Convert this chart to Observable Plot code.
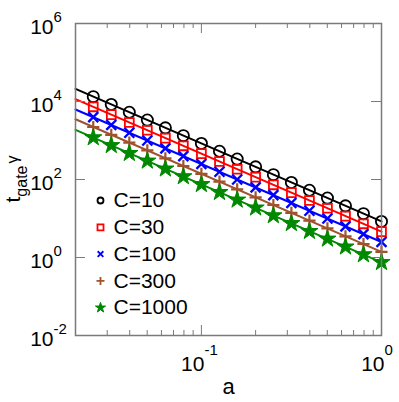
<!DOCTYPE html>
<html><head><meta charset="utf-8">
<script src="https://cdn.jsdelivr.net/npm/d3@7"></script>
<script src="https://cdn.jsdelivr.net/npm/@observablehq/plot@0.6"></script>
<style>body{margin:0;background:#fff}</style>
</head><body><div id="chart"></div>
<script>
// ---- data ----
const aValues = [0.0251, 0.0316, 0.0398, 0.0501, 0.0631, 0.0794, 0.1, 0.126, 0.158, 0.2, 0.251, 0.316, 0.398, 0.501, 0.631, 0.794, 1];
const tC10   = [13300, 8400, 5300, 3340, 2110, 1330, 840, 530, 334, 211, 133, 84, 53, 33.4, 21.1, 13.3, 8.4];
const tC30   = [7300, 4600, 2900, 1830, 1150, 730, 460, 290, 183, 115, 73, 46, 29, 18.3, 11.5, 7.3, 4.6];
const tC100  = [3960, 2500, 1580, 1000, 630, 396, 250, 158, 100, 63, 39.6, 25, 15.8, 10, 6.3, 3.96, 2.5];
const tC300  = [2220, 1400, 880, 560, 350, 222, 140, 88, 56, 35, 22.2, 14, 8.8, 5.6, 3.5, 2.22, 1.4];
const tC1000 = [1190, 750, 470, 300, 188, 119, 75, 47, 30, 18.8, 11.9, 7.5, 4.7, 3.0, 1.88, 1.19, 0.75];
// fitted lines (end points)
const lineA = [0.02, 1];
const lineC10 = [21000, 8.4];
const lineC30 = [11500, 4.6];
const lineC100 = [6250, 2.5];
const lineC300 = [3500, 1.4];
const lineC1000 = [1875, 0.75];

const seriesNames = ["C=10", "C=30", "C=100", "C=300", "C=1000"];
const seriesPoints = [tC10, tC30, tC100, tC300, tC1000];
const seriesLines = [lineC10, lineC30, lineC100, lineC300, lineC1000];

const xMajorTicks = [0.1, 1];
const xTickExp = ["-1", "0"];
const xMinorTicks = [0.02, 0.03, 0.04, 0.05, 0.06, 0.07, 0.08, 0.09, 0.2, 0.3, 0.4, 0.5, 0.6, 0.7, 0.8, 0.9];
const yMajorTicks = [1e-2, 1, 1e2, 1e4, 1e6];
const yTickExp = ["-2", "0", "2", "4", "6"];

// ---- styles ----
const colors = ["#000000", "#ff0000", "#0000ff", "#a0522d", "#008800"];
const symbols = ["circle", "square", "times", "plus", "star"];
const markR = [5.6, 5, 4.6, 4, 5.4];
const legR = [3, 3.4, 2.7, 2.7, 3.2];
const markFill = ["none", "none", "none", "none", "#008800"];
const markSW = [1.8, 1.8, 2.4, 2.2, 1];
const axisColor = "#7a7a7a";
const W = 399, H = 402, mL = 75, mR = 18, mT = 23, mB = 67;
const fh = H - mT - mB, fw = W - mL - mR;

const marks = [];
// lines
seriesLines.forEach((ln, i) => {
  marks.push(Plot.line(lineA.map((a, j) => ({a, t: ln[j]})), {x: "a", y: "t", stroke: colors[i], strokeWidth: 2}));
});
// markers
seriesPoints.forEach((pts, i) => {
  marks.push(Plot.dot(aValues.map((a, j) => ({a, t: pts[j]})), {
    x: "a", y: "t", symbol: symbols[i], r: markR[i],
    stroke: colors[i], fill: markFill[i], strokeWidth: markSW[i]
  }));
});
// legend
seriesNames.forEach((name, i) => {
  const dy = 177 + i * 26.8;
  marks.push(Plot.dot([name], {frameAnchor: "top-left", dx: 25, dy, symbol: symbols[i], r: legR[i],
    stroke: colors[i], fill: markFill[i], strokeWidth: Math.min(markSW[i], 1.8)}));
  marks.push(Plot.text([name], {frameAnchor: "top-left", dx: 38, dy, text: d => d, textAnchor: "start",
    lineAnchor: "middle", fontSize: 21, fill: "#000"}));
});
// frame and ticks
marks.push(Plot.frame({stroke: axisColor, strokeWidth: 1.5}));
marks.push(Plot.tickX(xMajorTicks, {x: d => d, insetTop: fh - 10, stroke: axisColor}));
marks.push(Plot.tickX(xMajorTicks, {x: d => d, insetBottom: fh - 10, stroke: axisColor}));
marks.push(Plot.tickX(xMinorTicks, {x: d => d, insetTop: fh - 5, stroke: axisColor}));
marks.push(Plot.tickX(xMinorTicks, {x: d => d, insetBottom: fh - 5, stroke: axisColor}));
marks.push(Plot.tickY(yMajorTicks, {y: d => d, insetRight: fw - 10, stroke: axisColor}));
marks.push(Plot.tickY(yMajorTicks, {y: d => d, insetLeft: fw - 10, stroke: axisColor}));
// tick labels
marks.push(Plot.text(xMajorTicks, {x: d => d, frameAnchor: "bottom", text: () => "10", textAnchor: "end",
  dx: 3, dy: 35, lineAnchor: "bottom", fontSize: 21, fill: "#000"}));
marks.push(Plot.text(xMajorTicks, {x: d => d, frameAnchor: "bottom", text: (d, i) => xTickExp[i], textAnchor: "start",
  dx: 3, dy: 19, lineAnchor: "bottom", fontSize: 15, fill: "#000"}));
marks.push(Plot.text(yMajorTicks, {y: d => d, frameAnchor: "left", text: () => "10", textAnchor: "end",
  dx: -22, dy: 10, lineAnchor: "bottom", fontSize: 21, fill: "#000"}));
marks.push(Plot.text(yMajorTicks, {y: d => d, frameAnchor: "left", text: (d, i) => yTickExp[i], textAnchor: "start",
  dx: -22, dy: -2, lineAnchor: "bottom", fontSize: 15, fill: "#000"}));
// x axis label
marks.push(Plot.text(["a"], {frameAnchor: "bottom", text: d => d, dy: 58, lineAnchor: "bottom", fontSize: 22, fill: "#000"}));

const svg = Plot.plot({
  width: W, height: H,
  marginLeft: mL, marginRight: mR, marginTop: mT, marginBottom: mB,
  style: {fontFamily: "'Liberation Sans', Arial, Helvetica, sans-serif", background: "#fff"},
  x: {type: "log", domain: [0.02, 1], axis: null},
  y: {type: "log", domain: [1e-2, 1e6], axis: null},
  marks
});

// y axis label with subscript/superscript
const lab = d3.select(svg).append("text")
  .attr("transform", `translate(20,${mT + fh / 2}) rotate(-90)`)
  .attr("text-anchor", "middle")
  .attr("fill", "#000")
  .style("font-family", "'Liberation Sans', Arial, Helvetica, sans-serif");
lab.append("tspan").attr("font-size", 21).text("t");
lab.append("tspan").attr("font-size", 16).attr("dy", 7).text("gate");
lab.append("tspan").attr("font-size", 16).attr("dy", -9).attr("dx", 2).text("γ");

document.getElementById("chart").appendChild(svg);
</script>
</body></html>
